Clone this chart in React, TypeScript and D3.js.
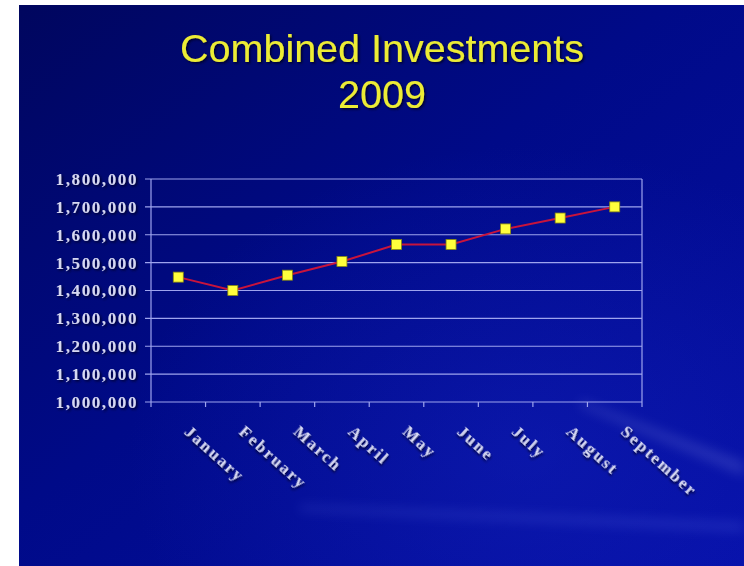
import React, { useEffect, useRef } from 'react';
import * as d3 from 'd3';

const months = ['January', 'February', 'March', 'April', 'May', 'June', 'July', 'August', 'September'];
const investments = [1448000, 1400000, 1455000, 1504000, 1565000, 1565000, 1621000, 1660000, 1700000];
const yTicks = [1000000, 1100000, 1200000, 1300000, 1400000, 1500000, 1600000, 1700000, 1800000];
const titleLines = ['Combined Investments', '2009'];

export default function App() {
  const svgRef = useRef<SVGSVGElement>(null);

  useEffect(() => {
    if (!svgRef.current) return;
    document.body.style.margin = '0';

    const W = 744, H = 566;
    const plot = { left: 151, right: 642, top: 179, bottom: 402 };

    const svg = d3.select(svgRef.current).attr('width', W).attr('height', H);
    svg.selectAll('*').remove();

    // background gradients
    const defs = svg.append('defs');
    const bg = defs.append('linearGradient').attr('id', 'bg')
      .attr('x1', '0').attr('y1', '0').attr('x2', '1').attr('y2', '1');
    bg.append('stop').attr('offset', '0%').attr('stop-color', '#00065e');
    bg.append('stop').attr('offset', '45%').attr('stop-color', '#000a88');
    bg.append('stop').attr('offset', '100%').attr('stop-color', '#0610a8');

    const glow = defs.append('radialGradient').attr('id', 'glow')
      .attr('cx', '0.7').attr('cy', '0.8').attr('r', '0.55');
    glow.append('stop').attr('offset', '0%').attr('stop-color', '#1828c8').attr('stop-opacity', 0.35);
    glow.append('stop').attr('offset', '100%').attr('stop-color', '#1828c8').attr('stop-opacity', 0);

    const shadow = defs.append('filter').attr('id', 'shadow')
      .attr('x', '-10%').attr('y', '-10%').attr('width', '120%').attr('height', '130%');
    shadow.append('feDropShadow').attr('dx', 1.5).attr('dy', 1.5).attr('stdDeviation', 1)
      .attr('flood-color', '#000022').attr('flood-opacity', 0.9);

    const blur = defs.append('filter').attr('id', 'blur');
    blur.append('feGaussianBlur').attr('stdDeviation', 6);

    svg.append('rect').attr('width', W).attr('height', H).attr('fill', '#ffffff');
    svg.append('rect').attr('x', 19).attr('y', 5).attr('width', W - 19).attr('height', H - 5).attr('fill', 'url(#bg)');
    svg.append('rect').attr('x', 19).attr('y', 5).attr('width', W - 19).attr('height', H - 5).attr('fill', 'url(#glow)');

    // faint streaks lower right
    const streaks = svg.append('g').attr('filter', 'url(#blur)').attr('opacity', 0.16);
    streaks.append('path').attr('d', 'M 580 400 L 744 462 L 744 476 L 580 406 Z').attr('fill', '#c0c8ff');
    streaks.append('path').attr('d', 'M 300 505 L 744 522 L 744 532 L 300 511 Z').attr('fill', '#8090ff');

    // title
    svg.append('g').selectAll('text').data(titleLines).enter().append('text')
      .attr('x', 382)
      .attr('y', (d, i) => 62 + i * 46)
      .attr('text-anchor', 'middle')
      .attr('font-family', 'Liberation Sans, Arial, sans-serif')
      .attr('font-size', 39.5)
      .attr('fill', '#ecec36')
      .attr('filter', 'url(#shadow)')
      .text(d => d);

    const x = d3.scaleBand().domain(months).range([plot.left, plot.right]);
    const y = d3.scaleLinear().domain([1000000, 1800000]).range([plot.bottom, plot.top]);

    const g = svg.append('g');
    const gridColor = '#9ea4ee';

    // horizontal grid lines
    g.selectAll('.grid').data(yTicks).enter().append('line')
      .attr('x1', plot.left - 6).attr('x2', plot.right)
      .attr('y1', d => y(d)).attr('y2', d => y(d))
      .attr('stroke', gridColor).attr('stroke-width', 1.2);

    // axes frame
    g.append('line').attr('x1', plot.left).attr('x2', plot.left)
      .attr('y1', plot.top).attr('y2', plot.bottom).attr('stroke', gridColor).attr('stroke-width', 1.2);
    g.append('line').attr('x1', plot.right).attr('x2', plot.right)
      .attr('y1', plot.top).attr('y2', plot.bottom).attr('stroke', gridColor).attr('stroke-width', 1.2);

    // x ticks at band boundaries
    const bounds = months.map(m => x(m) as number).concat([plot.right]);
    g.selectAll('.xt').data(bounds).enter().append('line')
      .attr('x1', d => d).attr('x2', d => d)
      .attr('y1', plot.bottom).attr('y2', plot.bottom + 5)
      .attr('stroke', gridColor).attr('stroke-width', 1.2);

    const labelStyle = (sel: any) => sel
      .attr('font-family', 'Liberation Serif, Times New Roman, serif')
      .attr('font-weight', 'bold')
      .attr('font-size', 17)
      .attr('letter-spacing', 1.6)
      .attr('fill', '#d6d8f2')
      .attr('filter', 'url(#shadow)');

    // y labels
    g.selectAll('.yl').data(yTicks).enter().append('text')
      .attr('x', plot.left - 13)
      .attr('y', d => y(d))
      .attr('dy', '0.35em')
      .attr('text-anchor', 'end')
      .call(labelStyle)
      .text(d => d3.format(',')(d));

    // x labels rotated
    g.selectAll('.xl').data(months).enter().append('text')
      .attr('transform', d => `translate(${(x(d) as number) + x.bandwidth() / 2 + 5},${plot.bottom + 31}) rotate(42)`)
      .attr('text-anchor', 'start')
      .call(labelStyle)
      .attr('letter-spacing', 2)
      .text(d => d);

    // line
    const cx = (d: string) => (x(d) as number) + x.bandwidth() / 2;
    const line = d3.line<number>()
      .x((d, i) => cx(months[i]))
      .y(d => y(d));
    g.append('path').datum(investments)
      .attr('fill', 'none')
      .attr('stroke', '#c8143c')
      .attr('stroke-width', 2)
      .attr('d', line);

    // markers
    const s = 10;
    g.selectAll('.pt').data(investments).enter().append('rect')
      .attr('x', (d, i) => cx(months[i]) - s / 2)
      .attr('y', d => y(d) - s / 2)
      .attr('width', s).attr('height', s)
      .attr('fill', '#ffff3c')
      .attr('stroke', '#8a8a10')
      .attr('stroke-width', 0.8);
  }, []);

  return (
    <svg ref={svgRef} style={{ position: 'absolute', left: 0, top: 0, display: 'block' }}></svg>
  );
}
